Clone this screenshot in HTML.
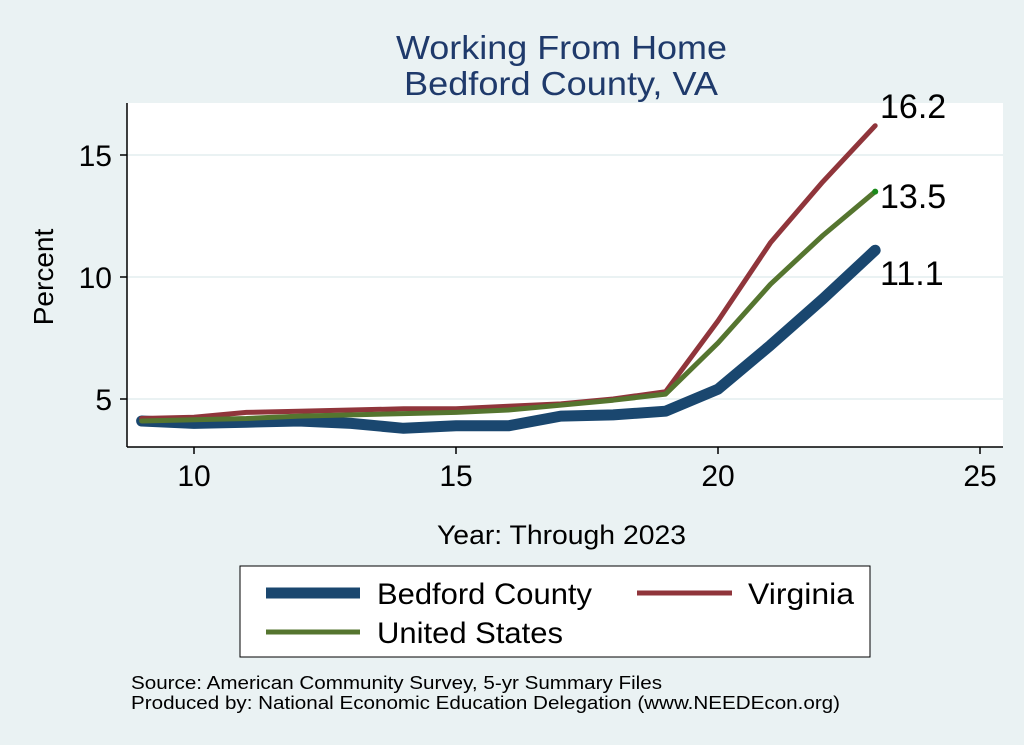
<!DOCTYPE html>
<html><head><meta charset="utf-8"><style>
body{margin:0;background:#eaf2f3;}
svg{display:block;font-family:"Liberation Sans",sans-serif;}
</style></head><body>
<svg width="1024" height="745" viewBox="0 0 1024 745">
<rect width="1024" height="745" fill="#eaf2f3"/>
<text x="396" y="59" font-size="33" fill="#1f3a6b" textLength="331" lengthAdjust="spacingAndGlyphs">Working From Home</text>
<text x="404" y="95" font-size="33" fill="#1f3a6b" textLength="314" lengthAdjust="spacingAndGlyphs">Bedford County, VA</text>
<rect x="127" y="103" width="876" height="344" fill="#fff"/>
<g stroke="#eaf2f3" stroke-width="2">
<line x1="127" x2="1003" y1="155" y2="155"/>
<line x1="127" x2="1003" y1="277" y2="277"/>
<line x1="127" x2="1003" y1="399" y2="399"/>
</g>
<g stroke="#000" stroke-width="1.5">
<line x1="127" x2="127" y1="103" y2="447"/>
<line x1="127" x2="1003" y1="447" y2="447"/>
<line x1="120" x2="127" y1="155" y2="155"/>
<line x1="120" x2="127" y1="277" y2="277"/>
<line x1="120" x2="127" y1="399" y2="399"/>
<line x1="194" x2="194" y1="447" y2="454"/>
<line x1="456" x2="456" y1="447" y2="454"/>
<line x1="718" x2="718" y1="447" y2="454"/>
<line x1="980" x2="980" y1="447" y2="454"/>
</g>
<g font-size="30" fill="#000">
<text x="112" y="166" text-anchor="end">15</text>
<text x="112" y="288" text-anchor="end">10</text>
<text x="112" y="410" text-anchor="end">5</text>
<text x="194" y="486" text-anchor="middle">10</text>
<text x="456" y="486" text-anchor="middle">15</text>
<text x="718" y="486" text-anchor="middle">20</text>
<text x="980" y="486" text-anchor="middle">25</text>
</g>
<text x="53" y="277" font-size="28" transform="rotate(-90 53 277)" text-anchor="middle">Percent</text>
<text x="437" y="544" font-size="27" textLength="249" lengthAdjust="spacingAndGlyphs">Year: Through 2023</text>
<g fill="none" stroke-linejoin="round" stroke-linecap="round">
<polyline stroke="#1a476f" stroke-width="11" points="141.6,421 194,423.4 246.4,422.2 298.8,421 351.2,423.4 403.6,428.3 456,425.8 508.4,425.8 560.8,416.1 613.2,414.9 665.6,411.2 718,389.2 770.4,345.3 822.8,299 875.2,250.2"/>
<polyline stroke="#90353b" stroke-width="5" points="141.6,418.5 194,417.3 246.4,412.4 298.8,411.2 351.2,410 403.6,408.8 456,408.8 508.4,406.3 560.8,403.9 613.2,399 665.6,391.7 718,320.9 770.4,242.8 822.8,181.8 875.2,125.7"/>
<polyline stroke="#55752f" stroke-width="5" points="141.6,421 194,419.7 246.4,418.5 298.8,416.1 351.2,414.9 403.6,413.6 456,412.4 508.4,410 560.8,405.1 613.2,400.2 665.6,394.1 718,342.9 770.4,284.3 822.8,235.5 875.2,191.6"/>
</g>
<circle cx="875.2" cy="191.6" r="3" fill="#1a8a1a"/>
<g font-size="34">
<text x="880" y="118">16.2</text>
<text x="880" y="208">13.5</text>
<text x="880" y="285">11.1</text>
</g>
<rect x="240" y="566" width="630" height="91" fill="#fff" stroke="#000" stroke-width="1"/>
<line x1="266" x2="360" y1="593" y2="593" stroke="#1a476f" stroke-width="11"/>
<text x="377" y="604" font-size="30" textLength="215" lengthAdjust="spacingAndGlyphs">Bedford County</text>
<line x1="637" x2="732" y1="593" y2="593" stroke="#90353b" stroke-width="5"/>
<text x="748" y="604" font-size="30" textLength="106" lengthAdjust="spacingAndGlyphs">Virginia</text>
<line x1="266" x2="360" y1="632" y2="632" stroke="#55752f" stroke-width="5"/>
<text x="377" y="643" font-size="30" textLength="186" lengthAdjust="spacingAndGlyphs">United States</text>
<text x="131" y="689" font-size="18" textLength="531" lengthAdjust="spacingAndGlyphs">Source: American Community Survey, 5-yr Summary Files</text>
<text x="131" y="709" font-size="18" textLength="709" lengthAdjust="spacingAndGlyphs">Produced by: National Economic Education Delegation (www.NEEDEcon.org)</text>
</svg>
</body></html>
